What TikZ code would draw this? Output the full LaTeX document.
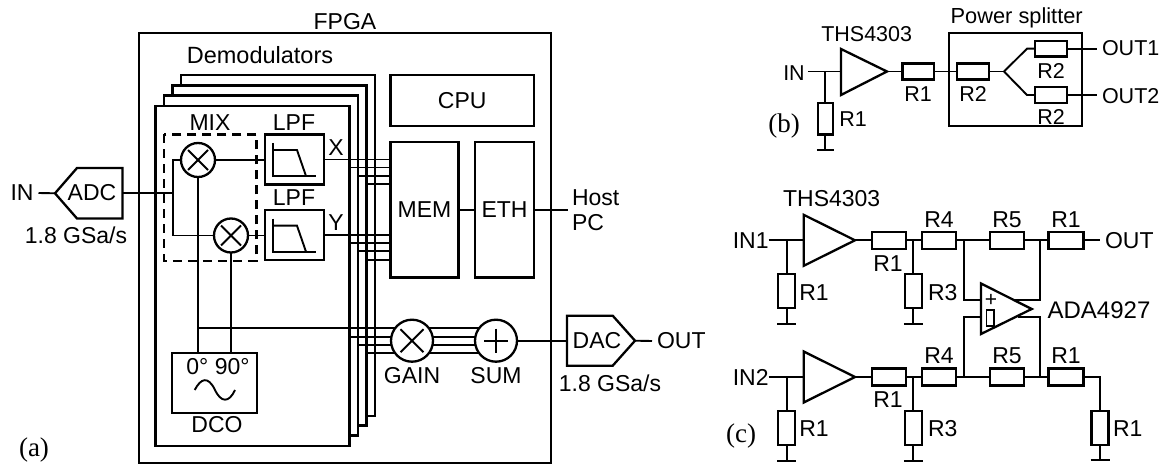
\documentclass[tikz,border=0pt]{standalone}
\usepackage{fontspec}
\setmainfont{Liberation Sans}
\newfontfamily\capfont{Liberation Serif}
\usetikzlibrary{calc}
\tikzset{
  wire/.style={line width=1.9pt,draw=black},
  box/.style={draw=black,line width=2.3pt,fill=white,rectangle,inner sep=0pt,outer sep=0pt},
  frame/.style={draw=black,line width=2.3pt},
  res/.style={box,minimum width=34pt,minimum height=17pt},
  vres/.style={box,minimum width=17pt,minimum height=34pt},
  txt/.style={inner sep=0pt,outer sep=0pt,font=\fontsize{23}{25}\selectfont},
  txtb/.style={inner sep=0pt,outer sep=0pt,font=\fontsize{21.5}{24}\selectfont},
  captxt/.style={inner sep=0pt,outer sep=0pt,font=\capfont\fontsize{27}{29}\selectfont},
  smallc/.style={draw=black,line width=2.3pt,fill=white,circle,minimum size=34pt,inner sep=0pt,outer sep=0pt},
  bigc/.style={draw=black,line width=2.3pt,fill=white,circle,minimum size=42pt,inner sep=0pt,outer sep=0pt},
  gnd/.style={line width=2.3pt,draw=black}
}
\begin{document}
\begin{tikzpicture}[x=1pt,y=-1pt]
\useasboundingbox (0,0) rectangle (1165,465);
% ---------- (a)
\node[txt] (tfpga) at (345,22) {FPGA};
\node[box,minimum width=412pt,minimum height=430pt] (fpga) at (345,248) {};
\node[txt,font=\fontsize{23.5}{25}\selectfont] (tdem) at (260,55) {Demodulators};
\node[box,minimum width=194pt,minimum height=341pt] (d4) at (278,245.5) {};
\node[box,minimum width=194pt,minimum height=340pt] (d3) at (269.5,255.5) {};
\node[box,minimum width=194pt,minimum height=340pt] (d2) at (261,265.5) {};
\node[box,minimum width=194pt,minimum height=340pt] (d1) at (252.5,276) {};
\node[box,minimum width=143.5pt,minimum height=51pt] (cpu) at (462.2,100.5) {};
\node[txt] at (cpu.center) {CPU};
\node[box,minimum width=68pt,minimum height=135.5pt] (mem) at (424.5,209.8) {};
\node[txt] at (mem.center) {MEM};
\node[box,minimum width=59pt,minimum height=135.5pt] (eth) at (504.5,209.8) {};
\node[txt] at (eth.center) {ETH};
% MIX
\draw[line width=2.3pt,dash pattern=on 9pt off 6pt] (164,134.5) rectangle (256.5,260.7);
\node[txt] (tmix) at (210,123) {MIX};
% LPFs
\node[box,minimum width=59pt,minimum height=50pt] (lpfx) at (294.5,159.5) {};
\node[box,minimum width=59pt,minimum height=50pt] (lpfy) at (294.5,235.2) {};
\node[txt] at (294,123) {LPF};
\node[txt] at (294,198) {LPF};
\node[txt] at (336,148) {X};
\node[txt] at (336,223) {Y};
\foreach \n in {lpfx,lpfy}{
  \draw[wire] ($(\n.center)+(-21.5,-16.5)$) -- ($(\n.center)+(-21.5,16.5)$) -- ($(\n.center)+(21.5,16.5)$);
  \draw[wire] ($(\n.center)+(-21.5,-9.5)$) -- ($(\n.center)+(2.5,-9.5)$) -- ($(\n.center)+(11.5,16.5)$);
}
% Mixers
\coordinate (split) at (173,193.3);
\coordinate (dcoT) at (198,328.3);
\node[smallc] (m1) at (198,160) {};
\node[smallc] (m2) at (231,235.5) {};
\node[box,minimum width=85pt,minimum height=60pt] (dco) at (214.5,383) {};
\node[txt] at (218,367) {0° 90°};
\node[txt] at (217,425) {DCO};
\draw[wire] (194.7,390) .. controls (201,378) and (208,376) .. (214.8,389.5) .. controls (221,403) and (229,403) .. (235,390);
\draw[wire] (m1.south) -- (m1.south |- dco.north);
\draw[wire] (m2.south) -- (m2.south |- dco.north);
\foreach \n in {m1,m2}{
  \draw[wire] ($(\n.center)+(-10,-10)$) -- ($(\n.center)+(10,10)$);
  \draw[wire] ($(\n.center)+(-10,10)$) -- ($(\n.center)+(10,-10)$);
}
\draw[wire] (m1.east) -- (lpfx.west |- m1.east);
\draw[wire] (m2.east) -- (lpfy.west |- m2.east);
% ADC
\coordinate (adcIn) at (55,193.3);
\coordinate (adcOut) at (122.5,193.3);
\draw[frame,fill=white] (adcIn) -- (77,168) -- (122.5,168) -- (122.5,218.5) -- (77,218.5) -- cycle;
\node[txt] (tadc) at (92,193) {ADC};
\node[txt] (tin) at (22,193) {IN};
\node[txt] at (76,235) {1.8 GSa/s};
\draw[wire] (tin.east)+(5,0) -- (adcIn);
\draw[wire] (adcOut) -- (split);
\draw[wire] (m1.west) -- (m1.west -| split) -- (m2.west -| split) -- (m2.west);
% X, Y buses
\draw[wire] (lpfx.east) -- (lpfx.east -| mem.west);
\draw[wire] (d1.east |- 0,167.5) -- (mem.west |- 0,167.5);
\draw[wire] (d2.east |- 0,175.7) -- (mem.west |- 0,175.7);
\draw[wire] (d3.east |- 0,184) -- (mem.west |- 0,184);
\draw[wire] (lpfy.east) -- (lpfy.east -| mem.west);
\draw[wire] (d1.east |- 0,243) -- (mem.west |- 0,243);
\draw[wire] (d2.east |- 0,251.3) -- (mem.west |- 0,251.3);
\draw[wire] (d3.east |- 0,260) -- (mem.west |- 0,260);
% MEM ETH host
\draw[wire] (mem.east) -- (eth.west);
\coordinate (host) at (568,209.8);
\draw[wire] (eth.east) -- (host);
\node[txt,anchor=west] at (572,198) {Host};
\node[txt,anchor=west] at (572,223) {PC};
% Gain, sum
\coordinate (gainC) at (412,340.7);
\coordinate (sumC) at (496,340.7);
\draw[wire] (dcoT) -- (sumC |- dcoT);
\draw[wire] (d1.east |- 0,336.7) -- (sumC |- 0,336.7);
\draw[wire] (d2.east |- 0,345) -- (sumC |- 0,345);
\draw[wire] (d3.east |- 0,353) -- (sumC |- 0,353);
\node[bigc] (gain2) at (gainC) {};
\node[bigc] (sum2) at (sumC) {};
\draw[wire] ($(gain2.center)+(-11.5,-11.5)$) -- ($(gain2.center)+(11.5,11.5)$);
\draw[wire] ($(gain2.center)+(-11.5,11.5)$) -- ($(gain2.center)+(11.5,-11.5)$);
\draw[wire] ($(sum2.center)+(-12,0)$) -- ($(sum2.center)+(12,0)$);
\draw[wire] ($(sum2.center)+(0,-12)$) -- ($(sum2.center)+(0,12)$);
\node[txt] at (412,376) {GAIN};
\node[txt] at (496,376) {SUM};
% DAC
\coordinate (dacIn) at (567,340.7);
\coordinate (dacOut) at (635,340.7);
\draw[frame,fill=white] (dacIn |- 0,315.7) -- (612.7,315.7) -- (dacOut) -- (612.7,365.7) -- (dacIn |- 0,365.7) -- cycle;
\node[txt] at (597,341) {DAC};
\node[txt,anchor=west] (tout) at (657,341) {OUT};
\node[txt] at (610,383) {1.8 GSa/s};
\draw[wire] (sum2.east) -- (dacIn);
\draw[wire] (dacOut) -- ($(tout.west)+(-5,0)$);
\node[captxt] at (34,450) {(a)};
% ---------- (b)
\node[txtb] (bin) at (794,73) {IN};
\node[txtb] at (866.7,34) {THS4303};
\node[txtb,font=\fontsize{21.8}{24}\selectfont] at (1016.7,18) {Power splitter};
\node[captxt] at (784,126) {(b)};
\node[box,minimum width=132.7pt,minimum height=93pt] (split2) at (1015.3,79.5) {};
\coordinate (bai) at (841,71.5);
\coordinate (bao) at (887,71.5);
\draw[frame] (841,49) -- (bao) -- (841,95) -- cycle;
\node[res,minimum width=31.5pt,minimum height=16pt] (br1) at (918.3,71.5) {};
\node[res,minimum width=32pt,minimum height=16pt] (br2) at (972.7,71.5) {};
\node[res,minimum width=31.7pt,minimum height=15.5pt] (br3) at (1050.8,48.7) {};
\node[res,minimum width=31.7pt,minimum height=16pt] (br4) at (1050.8,95) {};
\node[vres,minimum width=15pt,minimum height=31.5pt] (br0) at (825.3,118.8) {};
\coordinate (bj) at (825.3,71.5);
\coordinate (bs) at (1004,71.5);
\coordinate (bo1) at (1097,48.7);
\coordinate (bo2) at (1097,95);
\coordinate (bg) at (825.3,150);
\draw[wire] ($(bin.east)+(3,-1.5)$) -- (bai);
\draw[wire] (bj) -- (br0.north);
\draw[wire] (br0.south) -- (bg);
\draw[gnd] ($(bg)+(-8.5,0)$) -- ($(bg)+(8.5,0)$);
\draw[wire] (bao) -- (br1.west);
\draw[wire] (br1.east) -- (br2.west);
\draw[wire] (br2.east) -- (bs);
\draw[wire] (bs) -- (1027,48.7) -- (br3.west);
\draw[wire] (bs) -- (1027,95) -- (br4.west);
\draw[wire] (br3.east) -- (bo1);
\draw[wire] (br4.east) -- (bo2);
\node[txtb,anchor=west] at (1102,48.5) {OUT1};
\node[txtb,anchor=west] at (1102,96) {OUT2};
\node[txtb] at (918,94) {R1};
\node[txtb] at (973,94) {R2};
\node[txtb] at (1051,71) {R2};
\node[txtb] at (1051,117) {R2};
\node[txtb] at (853,119) {R1};
% ---------- (c)
\node[txt] at (831.7,199) {THS4303};
\node[captxt] at (741,436) {(c)};
\foreach \r/\Y/\lab in {a/240.3/IN1,b/377/IN2}{
  \node[txt] (cin\r) at (750.7,\Y) {\lab};
  \coordinate (ci\r) at (803.7,\Y);
  \coordinate (co\r) at (855,\Y);
  \draw[frame] (803.7,\Y-25.5) -- (co\r) -- (803.7,\Y+25.5) -- cycle;
  \coordinate (cj\r) at (786.7,\Y);
  \node[res] (cr1\r) at (889,\Y) {};
  \node[res] (cr4\r) at (939,\Y) {};
  \node[res] (cr5\r) at (1006.7,\Y) {};
  \node[res,minimum width=35pt] (cr6\r) at (1066,\Y) {};
  \node[vres] (cv1\r) at (786.7,\Y+51) {};
  \node[vres] (cv3\r) at (913.3,\Y+51) {};
  \coordinate (cg1\r) at (786.7,\Y+84);
  \coordinate (cg3\r) at (913.3,\Y+84);
  \coordinate (cjr\r) at (913.3,\Y);
  \coordinate (cjn\r) at (964.3,\Y);
  \coordinate (cjf\r) at (1040,\Y);
  \draw[wire] (cin\r.east) -- (ci\r);
  \draw[wire] (cj\r) -- (cv1\r.north);
  \draw[wire] (cv1\r.south) -- (cg1\r);
  \draw[gnd] ($(cg1\r)+(-9.5,0)$) -- ($(cg1\r)+(9.5,0)$);
  \draw[wire] (co\r) -- (cr1\r.west);
  \draw[wire] (cr1\r.east) -- (cr4\r.west);
  \draw[wire] (cjr\r) -- (cv3\r.north);
  \draw[wire] (cv3\r.south) -- (cg3\r);
  \draw[gnd] ($(cg3\r)+(-9.5,0)$) -- ($(cg3\r)+(9.5,0)$);
  \draw[wire] (cr4\r.east) -- (cr5\r.west);
  \draw[wire] (cr5\r.east) -- (cr6\r.west);
  \node[txt] at (888,\Y+23) {R1};
  \node[txt] at (939,\Y-21) {R4};
  \node[txt] at (1007,\Y-21) {R5};
  \node[txt] at (1066,\Y-21) {R1};
  \node[txt] at (814,\Y+52) {R1};
  \node[txt] at (942.7,\Y+52) {R3};
}
\coordinate (oapT) at (981,283.5);
\coordinate (oapB) at (981,334);
\coordinate (oapO) at (1031.7,309);
\coordinate (oapP) at (981,300);
\coordinate (oapM) at (981,317.3);
\coordinate (oafT) at (1040,300);
\coordinate (oafB) at (1040,317.3);
\draw[wire] (cjna) -- (cjna |- oapP) -- (oapP);
\draw[wire] (cjnb) -- (cjnb |- oapM) -- (oapM);
\draw[wire] (cjfa) -- (oafT) -- (1014,300);
\draw[wire] (cjfb) -- (oafB) -- (1017.5,317.3);
\draw[frame] (oapT) -- (oapO) -- (oapB) -- cycle;
\node[txt,font=\fontsize{21}{22}\selectfont] at (991,300) {+};
\draw[line width=1.2pt] (986.7,310) rectangle (994,326);
\node[txt,font=\fontsize{24}{25}\selectfont] at (1099,310) {ADA4927};
\coordinate (cout) at (1100,240.3);
\draw[wire] (cr6a.east) -- (cout);
\node[txt,anchor=west] at (1105,240.3) {OUT};
\node[vres] (cr7) at (1100,428) {};
\coordinate (cg7) at (1100,460);
\draw[wire] (cr6b.east) -- (cr7.north |- cr6b.east) -- (cr7.north);
\draw[wire] (cr7.south) -- (cg7);
\draw[gnd] ($(cg7)+(-9.5,0)$) -- ($(cg7)+(9.5,0)$);
\node[txt] at (1127.7,429) {R1};
\end{tikzpicture}
\end{document}
